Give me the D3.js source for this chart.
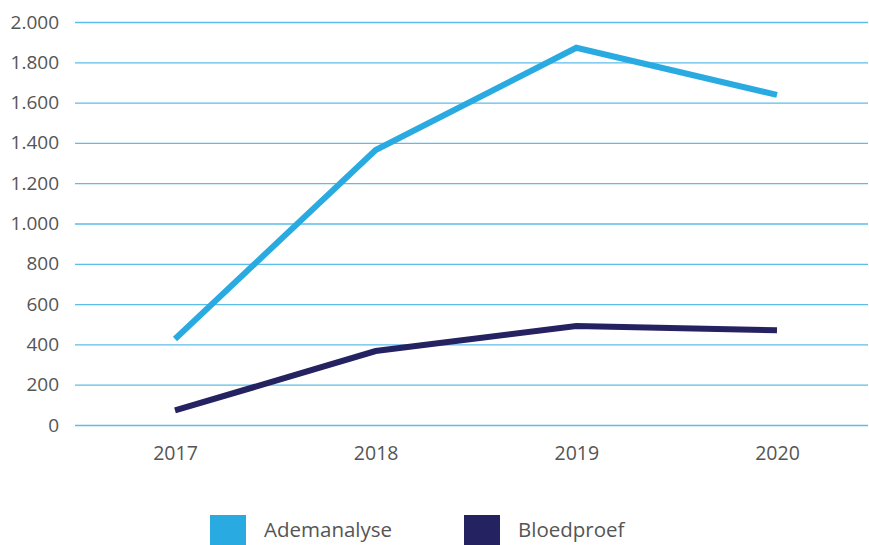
<!DOCTYPE html>
<html>
<head>
<meta charset="utf-8">
<script src="https://cdn.jsdelivr.net/npm/d3@7"></script>
<style>
  html, body { margin: 0; padding: 0; background: #fff; }
  svg { display: block; font-family: "Open Sans", "Noto Sans", sans-serif; }
</style>
</head>
<body>
<div id="chart"></div>
<script>
// ── 資料 ──
const years      = ["2017", "2018", "2019", "2020"];
const ademanalyse = [427, 1365, 1872, 1638];
const bloedproef  = [72, 367, 491, 470];
const seriesNames = ["Ademanalyse", "Bloedproef"];
const seriesColors = ["#29abe2", "#252262"];
const yTicks = [0, 200, 400, 600, 800, 1000, 1200, 1400, 1600, 1800, 2000];

const W = 869, H = 545;
const M = { left: 75, right: 1, top: 22, bottom: 120 };

const svg = d3.select("#chart").append("svg")
  .attr("width", W).attr("height", H);

// 類別點位（首尾年份的位置取自原圖）
const x = d3.scalePoint()
  .domain(years)
  .range([175, 777]);

const y = d3.scaleLinear()
  .domain([0, 2000])
  .range([H - M.bottom, M.top]);

const fmt = v => d3.format(",")(v).replace(/,/g, ".");

// ── 格線 + Y 軸 ──
const yAxis = svg.append("g")
  .attr("transform", `translate(${M.left},0)`)
  .call(d3.axisLeft(y).tickValues(yTicks).tickSize(-(W - M.left - M.right)).tickPadding(16).tickFormat(fmt));
yAxis.select(".domain").remove();
yAxis.selectAll(".tick line").attr("stroke", "#5bbde9").attr("stroke-width", 1.3);
yAxis.selectAll(".tick text")
  .attr("fill", "#555").attr("font-size", 19)
  .attr("font-family", "'Open Sans', 'Noto Sans', sans-serif");

// ── X 軸 ──
const xAxis = svg.append("g")
  .attr("transform", `translate(0,${H - M.bottom})`)
  .call(d3.axisBottom(x).tickSize(0).tickPadding(21));
xAxis.select(".domain").remove();
xAxis.selectAll(".tick text")
  .attr("fill", "#555").attr("font-size", 19.5)
  .attr("font-family", "'Open Sans', 'Noto Sans', sans-serif");

// ── 線 ──
const line = d3.line()
  .x((d, i) => x(years[i]))
  .y(d => y(d));

[ademanalyse, bloedproef].forEach((vals, i) => {
  svg.append("path")
    .datum(vals)
    .attr("d", line)
    .attr("fill", "none")
    .attr("stroke", seriesColors[i])
    .attr("stroke-width", 6)
    .attr("stroke-linejoin", "miter");
});

// ── 圖例 ──
const legX = [210, 464];
seriesNames.forEach((name, i) => {
  const g = svg.append("g").attr("transform", `translate(${legX[i]},515)`);
  g.append("rect").attr("width", 36).attr("height", 30).attr("fill", seriesColors[i]);
  g.append("text")
    .attr("x", 54).attr("y", 15).attr("dy", "0.35em")
    .attr("font-size", 20.5).attr("fill", "#555")
    .text(name);
});
</script>
</body>
</html>
